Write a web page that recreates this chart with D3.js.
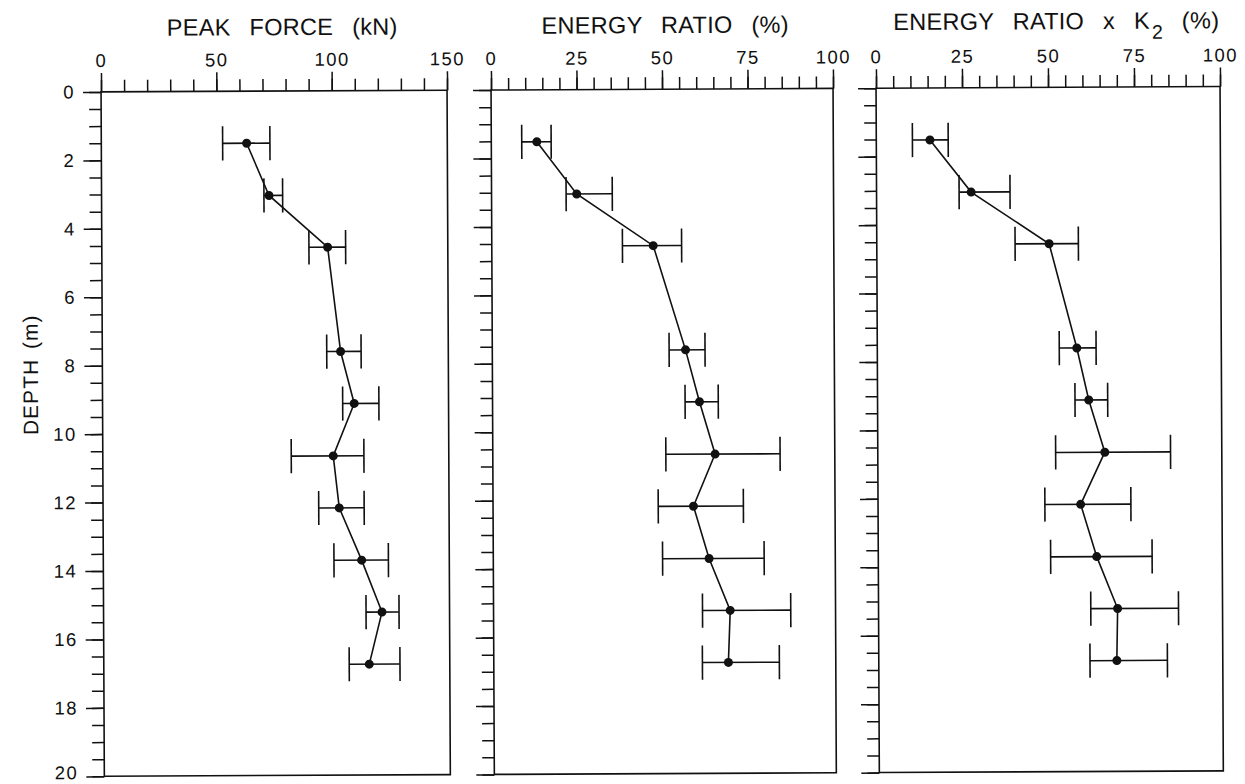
<!DOCTYPE html>
<html>
<head>
<meta charset="utf-8">
<script src="https://cdn.jsdelivr.net/npm/d3@7"></script>
<style>
  html, body { margin: 0; padding: 0; background: #fff; }
  svg { display: block; }
  text { font-family: "Liberation Sans", Arial, sans-serif; fill: #111; }
</style>
</head>
<body>
<svg id="chart" width="1245" height="784"></svg>
<script>
// SPT depths (5 ft intervals, metres)
const depth = [1.52, 3.05, 4.57, 7.62, 9.14, 10.67, 12.19, 13.72, 15.24, 16.76];

// Peak force (kN): mean with lower / upper range
const peakForce     = [63.0, 72.6, 97.9, 103.3, 109.1, 99.9, 102.4, 112.0, 120.7, 115.1];
const peakForceLow  = [52.6, 70.4, 89.8, 97.3, 104.1, 81.7, 93.5, 100.0, 113.8, 106.4];
const peakForceHigh = [73.1, 78.5, 105.7, 112.2, 119.8, 113.2, 113.2, 123.6, 128.1, 128.4];

// Energy ratio (%)
const energyRatio     = [13.3, 24.9, 47.2, 56.5, 60.5, 65.0, 58.6, 63.1, 69.2, 68.6];
const energyRatioLow  = [8.9, 21.8, 38.2, 51.7, 56.3, 50.6, 48.3, 49.5, 61.1, 61.0];
const energyRatioHigh = [17.5, 35.3, 55.5, 62.2, 66.0, 84.0, 73.2, 79.2, 86.9, 83.5];

// Energy ratio corrected by K2 (%)
const energyK2     = [15.6, 27.5, 50.1, 58.0, 61.4, 66.0, 58.9, 63.5, 69.5, 69.2];
const energyK2Low  = [10.5, 24.0, 40.2, 52.9, 57.4, 51.7, 48.5, 50.1, 61.7, 61.4];
const energyK2High = [20.9, 38.8, 58.6, 63.6, 66.9, 85.1, 73.5, 79.6, 87.2, 83.9];

// Axis ticks
const depthDomain = [0, 20];
const depthMajorTicks = [0, 2, 4, 6, 8, 10, 12, 14, 16, 18, 20];
const depthMinorStep = 0.5;
const forceDomain = [0, 150];
const forceMajorTicks = [0, 50, 100, 150];
const forceMinorStep = 10;
const ratioDomain = [0, 100];
const ratioMajorTicks = [0, 25, 50, 75, 100];
const ratioMinorStep = 5;

const panels = [
  { x0: 102.5, x1: 448.5, domain: forceDomain, major: forceMajorTicks, minorStep: forceMinorStep,
    mean: peakForce, low: peakForceLow, high: peakForceHigh, depthLabels: true,
    titleX: 284, titleY: 33.5, title: [{ t: "PEAK FORCE (kN)" }] },
  { x0: 492.5, x1: 834.5, domain: ratioDomain, major: ratioMajorTicks, minorStep: ratioMinorStep,
    mean: energyRatio, low: energyRatioLow, high: energyRatioHigh, depthLabels: false,
    titleX: 667, titleY: 33.3, title: [{ t: "ENERGY RATIO (%)" }] },
  { x0: 877.5, x1: 1221.5, domain: ratioDomain, major: ratioMajorTicks, minorStep: ratioMinorStep,
    mean: energyK2, low: energyK2Low, high: energyK2High, depthLabels: false,
    titleX: 1058, titleY: 31.3, title: [{ t: "ENERGY RATIO x K" }, { t: "2", sub: true }, { t: " (%)" }] }
];

const plotTop = 89.4, plotBottom = 773.8;
const y = d3.scaleLinear().domain(depthDomain).range([plotTop, plotBottom]);

const svg = d3.select("#chart");
const root = svg.append("g").attr("transform", "rotate(-0.275, 622, 392)");

const ink = "#111";
const fontFamily = '"Liberation Sans", Arial, sans-serif';
const minorDepth = d3.range(depthDomain[0], depthDomain[1] + 1e-9, depthMinorStep);

panels.forEach(p => {
  const x = d3.scaleLinear().domain(p.domain).range([p.x0, p.x1]);
  const g = root.append("g");
  const minorX = d3.range(p.domain[0], p.domain[1] + 1e-9, p.minorStep);

  // top axis: minor then major ticks
  g.append("g").attr("transform", `translate(0,${plotTop})`)
    .call(d3.axisTop(x).tickValues(minorX).tickSize(12).tickSizeOuter(0).tickFormat(""))
    .call(a => a.select(".domain").remove());
  g.append("g").attr("transform", `translate(0,${plotTop})`)
    .call(d3.axisTop(x).tickValues(p.major).tickSize(19).tickSizeOuter(0).tickPadding(6).tickFormat(d3.format("d")))
    .call(a => a.select(".domain").remove())
    .call(a => a.selectAll("text").attr("font-size", 18.5).attr("letter-spacing", 1.5)
      .attr("font-family", fontFamily).attr("fill", ink));

  // left axis: minor then major ticks
  g.append("g").attr("transform", `translate(${p.x0},0)`)
    .call(d3.axisLeft(y).tickValues(minorDepth).tickSize(12).tickSizeOuter(0).tickFormat(""))
    .call(a => a.select(".domain").remove());
  g.append("g").attr("transform", `translate(${p.x0},0)`)
    .call(d3.axisLeft(y).tickValues(depthMajorTicks).tickSize(18).tickSizeOuter(0).tickPadding(8)
      .tickFormat(p.depthLabels ? d3.format("d") : ""))
    .call(a => a.select(".domain").remove())
    .call(a => a.selectAll("text").attr("font-size", 18.5).attr("letter-spacing", 1.5)
      .attr("font-family", fontFamily).attr("fill", ink))
    // keep the bottom label inside the page edge
    .call(a => a.selectAll(".tick").filter(d => d === depthDomain[1]).select("text").attr("dy", "0.12em"));

  g.selectAll(".tick line").attr("stroke", ink).attr("stroke-width", 1.5);

  // frame
  g.append("rect")
    .attr("x", p.x0).attr("y", plotTop)
    .attr("width", p.x1 - p.x0).attr("height", plotBottom - plotTop)
    .attr("fill", "none").attr("stroke", ink).attr("stroke-width", 1.6);

  // title
  const title = g.append("text")
    .attr("x", p.titleX)
    .attr("y", p.titleY)
    .attr("text-anchor", "middle")
    .attr("font-size", 23.5)
    .attr("letter-spacing", 0.3)
    .attr("word-spacing", 12)
    .attr("fill", ink);
  p.title.forEach((s, i) => {
    const ts = title.append("tspan").text(s.t);
    if (s.sub) ts.attr("dy", 10).attr("font-size", 19.5).attr("dx", 2);
    else if (i > 0 && p.title[i - 1].sub) ts.attr("dy", -10);
  });

  const idx = d3.range(depth.length);
  const cap = 0.5;

  // range bars
  const bars = g.append("g").attr("stroke", ink).attr("stroke-width", 1.6).attr("fill", "none");
  bars.selectAll("line.h").data(idx).join("line").attr("class", "h")
    .attr("x1", i => x(p.low[i])).attr("x2", i => x(p.high[i]))
    .attr("y1", i => y(depth[i])).attr("y2", i => y(depth[i]));
  bars.selectAll("line.l").data(idx).join("line").attr("class", "l")
    .attr("x1", i => x(p.low[i])).attr("x2", i => x(p.low[i]))
    .attr("y1", i => y(depth[i] - cap)).attr("y2", i => y(depth[i] + cap));
  bars.selectAll("line.r").data(idx).join("line").attr("class", "r")
    .attr("x1", i => x(p.high[i])).attr("x2", i => x(p.high[i]))
    .attr("y1", i => y(depth[i] - cap)).attr("y2", i => y(depth[i] + cap));

  // profile line
  const line = d3.line().x(i => x(p.mean[i])).y(i => y(depth[i]));
  g.append("path").datum(idx).attr("d", line)
    .attr("fill", "none").attr("stroke", ink).attr("stroke-width", 1.6);

  // points
  g.selectAll("circle.pt").data(idx).join("circle").attr("class", "pt")
    .attr("cx", i => x(p.mean[i])).attr("cy", i => y(depth[i]))
    .attr("r", 4.5).attr("fill", ink);
});

// depth axis title
root.append("text")
  .attr("transform", "translate(38,372) rotate(-90)")
  .attr("text-anchor", "middle")
  .attr("font-size", 21)
  .attr("letter-spacing", 1)
  .attr("word-spacing", 3)
  .attr("fill", ink)
  .text("DEPTH (m)");
</script>
</body>
</html>
